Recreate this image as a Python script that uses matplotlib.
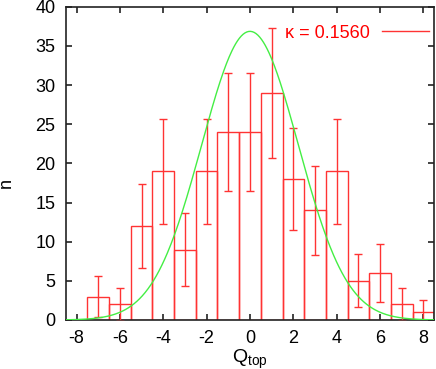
import numpy as np
import matplotlib
matplotlib.use('Agg')
import matplotlib.pyplot as plt
from matplotlib.lines import Line2D

# histogram of topological charge
q_top = [-8, -7, -6, -5, -4, -3, -2, -1, 0, 1, 2, 3, 4, 5, 6, 7, 8]
counts = [0, 3, 2, 12, 19, 9, 19, 24, 24, 29, 18, 14, 19, 5, 6, 2, 1]
errors = [0, 2.6, 2.1, 5.3, 6.7, 4.6, 6.7, 7.5, 7.5, 8.3, 6.5, 5.7, 6.7, 3.4, 3.7, 2.1, 1.5]

# gaussian fit
kappa = 0.1560
n_total = 206
sigma = 2.23

plt.rcParams['font.family'] = ['Liberation Sans', 'DejaVu Sans']
plt.rcParams['mathtext.fontset'] = 'custom'
plt.rcParams['mathtext.rm'] = 'Liberation Sans'
plt.rcParams['mathtext.it'] = 'Liberation Sans'
plt.rcParams['axes.unicode_minus'] = False

fig = plt.figure(figsize=(4.36, 3.69), dpi=100)
ax = fig.add_axes([65.7 / 436, 49 / 369, (434.3 - 65.7) / 436, (320 - 6.7) / 369])

red = '#ff3333'
green = '#44ee44'

ax.bar(q_top, counts, width=1.0, fill=False, edgecolor=red, linewidth=1.0, zorder=2)
ax.errorbar(q_top[1:], counts[1:], yerr=errors[1:], fmt='none', ecolor=red,
            elinewidth=1.0, capsize=3, capthick=1.0, zorder=3)

xs = np.linspace(-8.5, 8.5, 400)
ys = n_total / (np.sqrt(2 * np.pi) * sigma) * np.exp(-xs ** 2 / (2 * sigma ** 2))
ax.plot(xs, ys, color=green, linewidth=1.0, zorder=4)

ax.set_xlim(-8.5, 8.5)
ax.set_ylim(0, 40)
ax.set_xticks(range(-8, 9, 2))
ax.set_yticks(range(0, 41, 5))
ax.tick_params(direction='in', length=4.5, width=1.2, top=True, right=True,
               labelsize=13, pad=7.5, colors='#222222', labelcolor='black')
for s in ax.spines.values():
    s.set_linewidth(1.2)
    s.set_color('#222222')

ax.set_xlabel(r'$\mathrm{Q_{top}}$', fontsize=14, labelpad=0)
ax.set_ylabel('n', fontsize=13)
ax.yaxis.set_label_coords(-51 / 368.6, (320 - 183) / 313.3)

handle = Line2D([0], [0], color=red, linewidth=1.0)
leg = ax.legend([handle], [f'\u03ba = {kappa:.4f}'], loc='upper right', frameon=False,
                markerfirst=False, handlelength=2.6, handletextpad=0.65,
                borderpad=0, borderaxespad=0.3, fontsize=13,
                bbox_to_anchor=(1.0, 0.96))
for t in leg.get_texts():
    t.set_color('red')

fig.savefig('out.png', dpi=100)
